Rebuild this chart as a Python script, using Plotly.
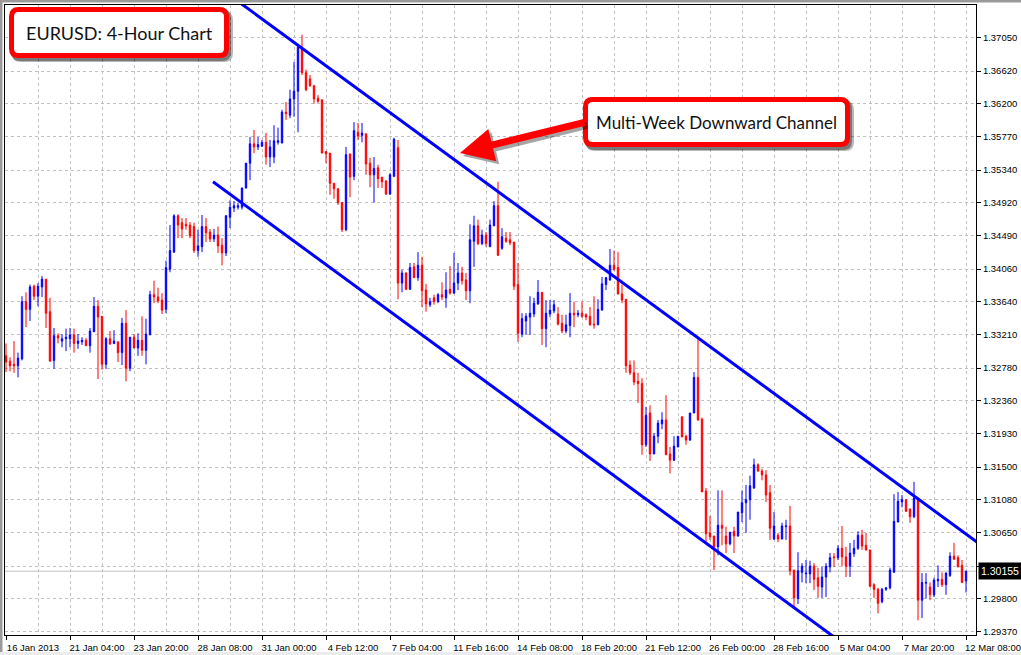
import plotly.graph_objects as go

# ---------------- data (EURUSD 4H) ----------------
bar_index = list(range(241))

open_ = [
    1.3294, 1.3287, 1.3283, 1.3281, 1.3290, 1.3364, 1.3354, 1.3384, 1.3371, 1.3383,
    1.3393, 1.3351, 1.3288, 1.3320, 1.3313, 1.3316, 1.3316, 1.3321, 1.3310, 1.3312,
    1.3314, 1.3307, 1.3325, 1.3358, 1.3345, 1.3283, 1.3316, 1.3310, 1.3312, 1.3298,
    1.3336, 1.3278, 1.3318, 1.3304, 1.3314, 1.3301, 1.3321, 1.3373, 1.3370, 1.3366,
    1.3354, 1.3406, 1.3428, 1.3475, 1.3466, 1.3464, 1.3463, 1.3461, 1.3430, 1.3435,
    1.3461, 1.3454, 1.3445, 1.3450, 1.3437, 1.3427, 1.3473, 1.3485, 1.3486, 1.3486,
    1.3511, 1.3543, 1.3568, 1.3564, 1.3565, 1.3570, 1.3551, 1.3551, 1.3570, 1.3569,
    1.3609, 1.3605, 1.3626, 1.3636, 1.3693, 1.3660, 1.3652, 1.3643, 1.3627, 1.3625,
    1.3558, 1.3556, 1.3517, 1.3510, 1.3492, 1.3457, 1.3555, 1.3526, 1.3583, 1.3579,
    1.3581, 1.3543, 1.3528, 1.3537, 1.3525, 1.3520, 1.3503, 1.3526, 1.3563, 1.3388,
    1.3401, 1.3380, 1.3409, 1.3395, 1.3411, 1.3379, 1.3360, 1.3369, 1.3364, 1.3373,
    1.3369, 1.3380, 1.3375, 1.3388, 1.3401, 1.3392, 1.3378, 1.3442, 1.3462, 1.3439,
    1.3450, 1.3435, 1.3462, 1.3488, 1.3433, 1.3446, 1.3444, 1.3441, 1.3386, 1.3322,
    1.3339, 1.3344, 1.3348, 1.3361, 1.3376, 1.3329, 1.3348, 1.3352, 1.3348, 1.3336,
    1.3326, 1.3333, 1.3349, 1.3347, 1.3349, 1.3347, 1.3345, 1.3335, 1.3334, 1.3353,
    1.3386, 1.3392, 1.3411, 1.3408, 1.3374, 1.3367, 1.3282, 1.3272, 1.3261, 1.3258,
    1.3179, 1.3220, 1.3167, 1.3190, 1.3206, 1.3211, 1.3167, 1.3159, 1.3176, 1.3215,
    1.3190, 1.3185, 1.3220, 1.3266, 1.3212, 1.3119, 1.3065, 1.3061, 1.3047, 1.3075,
    1.3061, 1.3051, 1.3067, 1.3061, 1.3091, 1.3104, 1.3108, 1.3123, 1.3153, 1.3145,
    1.3140, 1.3117, 1.3057, 1.3062, 1.3057, 1.3073, 1.3074, 1.3017, 1.2980, 1.3014,
    1.3012, 1.3012, 1.3022, 1.3007, 1.2995, 1.3008, 1.3021, 1.3034, 1.3033, 1.3045,
    1.3034, 1.3022, 1.3038, 1.3045, 1.3062, 1.3049, 1.3043, 1.2998, 1.2992, 1.2976,
    1.2992, 1.2994, 1.3014, 1.3079, 1.3105, 1.3108, 1.3096, 1.3086, 1.3110, 1.2978,
    1.3000, 1.2995, 1.2985, 1.3003, 1.3005, 1.2998, 1.3010, 1.3035, 1.3033, 1.3023,
    1.3003,
]

high = [
    1.3310, 1.3292, 1.3313, 1.3298, 1.3371, 1.3376, 1.3386, 1.3386, 1.3388, 1.3397,
    1.3393, 1.3369, 1.3330, 1.3323, 1.3322, 1.3329, 1.3330, 1.3329, 1.3322, 1.3318,
    1.3317, 1.3330, 1.3370, 1.3366, 1.3345, 1.3318, 1.3326, 1.3327, 1.3312, 1.3343,
    1.3353, 1.3318, 1.3322, 1.3323, 1.3345, 1.3342, 1.3378, 1.3391, 1.3382, 1.3375,
    1.3417, 1.3463, 1.3477, 1.3477, 1.3472, 1.3472, 1.3467, 1.3466, 1.3457, 1.3476,
    1.3472, 1.3458, 1.3458, 1.3461, 1.3446, 1.3476, 1.3495, 1.3494, 1.3492, 1.3511,
    1.3543, 1.3577, 1.3586, 1.3577, 1.3573, 1.3582, 1.3573, 1.3592, 1.3589, 1.3612,
    1.3622, 1.3638, 1.3674, 1.3693, 1.3709, 1.3664, 1.3657, 1.3644, 1.3631, 1.3625,
    1.3558, 1.3556, 1.3517, 1.3510, 1.3492, 1.3564, 1.3555, 1.3596, 1.3595, 1.3595,
    1.3581, 1.3550, 1.3551, 1.3541, 1.3525, 1.3521, 1.3530, 1.3576, 1.3573, 1.3405,
    1.3402, 1.3414, 1.3414, 1.3428, 1.3422, 1.3387, 1.3369, 1.3373, 1.3375, 1.3389,
    1.3402, 1.3410, 1.3427, 1.3414, 1.3409, 1.3401, 1.3464, 1.3475, 1.3470, 1.3457,
    1.3454, 1.3470, 1.3494, 1.3519, 1.3459, 1.3454, 1.3454, 1.3441, 1.3414, 1.3349,
    1.3349, 1.3371, 1.3369, 1.3392, 1.3376, 1.3366, 1.3366, 1.3366, 1.3357, 1.3347,
    1.3347, 1.3375, 1.3364, 1.3353, 1.3364, 1.3349, 1.3357, 1.3371, 1.3367, 1.3396,
    1.3396, 1.3432, 1.3430, 1.3428, 1.3386, 1.3367, 1.3288, 1.3288, 1.3272, 1.3265,
    1.3228, 1.3230, 1.3194, 1.3211, 1.3221, 1.3243, 1.3176, 1.3190, 1.3190, 1.3216,
    1.3192, 1.3220, 1.3273, 1.3317, 1.3214, 1.3123, 1.3087, 1.3061, 1.3120, 1.3120,
    1.3073, 1.3066, 1.3073, 1.3092, 1.3120, 1.3127, 1.3139, 1.3161, 1.3155, 1.3148,
    1.3146, 1.3127, 1.3092, 1.3065, 1.3078, 1.3082, 1.3100, 1.3017, 1.3040, 1.3026,
    1.3030, 1.3029, 1.3026, 1.3020, 1.3021, 1.3026, 1.3039, 1.3039, 1.3049, 1.3074,
    1.3047, 1.3052, 1.3056, 1.3067, 1.3069, 1.3065, 1.3043, 1.3000, 1.2994, 1.2994,
    1.2995, 1.3020, 1.3115, 1.3118, 1.3114, 1.3108, 1.3096, 1.3131, 1.3111, 1.3013,
    1.3013, 1.3001, 1.3007, 1.3023, 1.3014, 1.3014, 1.3040, 1.3052, 1.3036, 1.3030,
    1.3016,
]

low = [
    1.3273, 1.3274, 1.3272, 1.3266, 1.3288, 1.3331, 1.3339, 1.3366, 1.3358, 1.3370,
    1.3330, 1.3287, 1.3277, 1.3310, 1.3305, 1.3300, 1.3305, 1.3298, 1.3303, 1.3308,
    1.3307, 1.3298, 1.3325, 1.3264, 1.3276, 1.3277, 1.3309, 1.3309, 1.3286, 1.3282,
    1.3261, 1.3274, 1.3304, 1.3294, 1.3294, 1.3283, 1.3321, 1.3362, 1.3362, 1.3348,
    1.3349, 1.3402, 1.3427, 1.3446, 1.3446, 1.3457, 1.3446, 1.3427, 1.3422, 1.3428,
    1.3441, 1.3441, 1.3441, 1.3427, 1.3411, 1.3423, 1.3459, 1.3480, 1.3483, 1.3483,
    1.3510, 1.3521, 1.3556, 1.3560, 1.3564, 1.3541, 1.3538, 1.3543, 1.3567, 1.3569,
    1.3599, 1.3601, 1.3603, 1.3583, 1.3657, 1.3636, 1.3642, 1.3620, 1.3621, 1.3556,
    1.3543, 1.3502, 1.3497, 1.3489, 1.3454, 1.3455, 1.3499, 1.3521, 1.3573, 1.3570,
    1.3528, 1.3512, 1.3492, 1.3511, 1.3511, 1.3502, 1.3502, 1.3525, 1.3367, 1.3376,
    1.3379, 1.3379, 1.3395, 1.3391, 1.3357, 1.3351, 1.3357, 1.3360, 1.3362, 1.3366,
    1.3356, 1.3373, 1.3374, 1.3379, 1.3386, 1.3366, 1.3362, 1.3409, 1.3437, 1.3437,
    1.3435, 1.3435, 1.3462, 1.3423, 1.3431, 1.3440, 1.3437, 1.3379, 1.3312, 1.3318,
    1.3321, 1.3321, 1.3344, 1.3360, 1.3308, 1.3305, 1.3344, 1.3349, 1.3333, 1.3323,
    1.3323, 1.3318, 1.3331, 1.3344, 1.3343, 1.3340, 1.3333, 1.3329, 1.3334, 1.3353,
    1.3379, 1.3391, 1.3404, 1.3373, 1.3362, 1.3272, 1.3269, 1.3256, 1.3233, 1.3166,
    1.3176, 1.3158, 1.3167, 1.3181, 1.3199, 1.3166, 1.3142, 1.3158, 1.3176, 1.3189,
    1.3179, 1.3184, 1.3220, 1.3210, 1.3118, 1.3052, 1.3056, 1.3017, 1.3036, 1.3049,
    1.3039, 1.3049, 1.3039, 1.3060, 1.3079, 1.3065, 1.3082, 1.3122, 1.3144, 1.3133,
    1.3105, 1.3056, 1.3056, 1.3053, 1.3057, 1.3056, 1.3010, 1.2969, 1.2973, 1.3001,
    1.3000, 1.3000, 1.2991, 1.2981, 1.2981, 1.2982, 1.3014, 1.3021, 1.3030, 1.3022,
    1.3008, 1.3008, 1.3034, 1.3043, 1.3043, 1.3042, 1.2995, 1.2981, 1.2961, 1.2974,
    1.2990, 1.2992, 1.3014, 1.3079, 1.3098, 1.3092, 1.3078, 1.3084, 1.2952, 1.2955,
    1.2980, 1.2978, 1.2982, 1.2995, 1.2995, 1.2985, 1.3008, 1.3030, 1.3021, 1.3000,
    1.2988,
]

close = [
    1.3286, 1.3281, 1.3281, 1.3291, 1.3364, 1.3354, 1.3383, 1.3371, 1.3384, 1.3393,
    1.3349, 1.3287, 1.3320, 1.3317, 1.3316, 1.3318, 1.3321, 1.3310, 1.3313, 1.3314,
    1.3307, 1.3326, 1.3358, 1.3344, 1.3283, 1.3316, 1.3309, 1.3313, 1.3298, 1.3336,
    1.3278, 1.3318, 1.3304, 1.3314, 1.3301, 1.3322, 1.3373, 1.3370, 1.3365, 1.3353,
    1.3408, 1.3430, 1.3475, 1.3463, 1.3458, 1.3462, 1.3449, 1.3430, 1.3436, 1.3461,
    1.3453, 1.3445, 1.3450, 1.3436, 1.3427, 1.3475, 1.3486, 1.3488, 1.3488, 1.3511,
    1.3543, 1.3568, 1.3564, 1.3567, 1.3570, 1.3551, 1.3564, 1.3572, 1.3572, 1.3609,
    1.3607, 1.3626, 1.3636, 1.3693, 1.3660, 1.3638, 1.3643, 1.3626, 1.3623, 1.3556,
    1.3555, 1.3517, 1.3510, 1.3492, 1.3457, 1.3554, 1.3525, 1.3585, 1.3578, 1.3582,
    1.3542, 1.3528, 1.3536, 1.3523, 1.3519, 1.3503, 1.3528, 1.3574, 1.3388, 1.3401,
    1.3380, 1.3408, 1.3395, 1.3411, 1.3378, 1.3361, 1.3364, 1.3364, 1.3373, 1.3370,
    1.3379, 1.3375, 1.3388, 1.3401, 1.3391, 1.3378, 1.3444, 1.3462, 1.3439, 1.3450,
    1.3439, 1.3463, 1.3488, 1.3424, 1.3448, 1.3442, 1.3440, 1.3384, 1.3323, 1.3342,
    1.3345, 1.3349, 1.3362, 1.3376, 1.3329, 1.3349, 1.3353, 1.3360, 1.3335, 1.3326,
    1.3334, 1.3349, 1.3347, 1.3349, 1.3345, 1.3344, 1.3334, 1.3334, 1.3354, 1.3387,
    1.3395, 1.3411, 1.3406, 1.3374, 1.3366, 1.3281, 1.3272, 1.3260, 1.3258, 1.3179,
    1.3217, 1.3167, 1.3190, 1.3207, 1.3211, 1.3166, 1.3159, 1.3177, 1.3190, 1.3189,
    1.3185, 1.3220, 1.3266, 1.3211, 1.3118, 1.3064, 1.3060, 1.3047, 1.3075, 1.3071,
    1.3051, 1.3066, 1.3061, 1.3092, 1.3104, 1.3108, 1.3126, 1.3153, 1.3145, 1.3140,
    1.3114, 1.3071, 1.3074, 1.3057, 1.3074, 1.3074, 1.3016, 1.2981, 1.3016, 1.3022,
    1.3013, 1.3022, 1.3005, 1.2996, 1.3008, 1.3022, 1.3033, 1.3033, 1.3045, 1.3034,
    1.3022, 1.3039, 1.3045, 1.3062, 1.3048, 1.3043, 1.2996, 1.2992, 1.2974, 1.2992,
    1.2994, 1.3017, 1.3080, 1.3106, 1.3108, 1.3093, 1.3086, 1.3110, 1.2978, 1.3001,
    1.3001, 1.2985, 1.3004, 1.3005, 1.2998, 1.3013, 1.3035, 1.3031, 1.3021, 1.3001,
    1.30155,
]

x_tick_index = [0, 16, 32, 48, 64, 80, 96, 112, 128, 144, 160, 176, 192, 208, 224, 240]
x_tick_labels = ["16 Jan 2013", "21 Jan 04:00", "23 Jan 20:00", "28 Jan 08:00",
                 "31 Jan 00:00", "4 Feb 12:00", "7 Feb 04:00", "11 Feb 16:00",
                 "14 Feb 08:00", "18 Feb 20:00", "21 Feb 12:00", "26 Feb 00:00",
                 "28 Feb 16:00", "5 Mar 04:00", "7 Mar 20:00", "12 Mar 08:00"]

y_tick_values = [1.37050, 1.36620, 1.36200, 1.35770, 1.35340, 1.34920, 1.34490,
                 1.34060, 1.33640, 1.33210, 1.32780, 1.32360, 1.31930, 1.31500,
                 1.31080, 1.30650, 1.30220, 1.29800, 1.29370]

last_price = 1.30155

# channel trend lines (two anchor points each: bar index, price)
upper_channel_x = [50, 246]
upper_channel_y = [1.37825, 1.30409]
lower_channel_x = [51.75, 210]
lower_channel_y = [1.35190, 1.29191]

title_text = "EURUSD: 4-Hour Chart"
callout_text = "Multi-Week Downward Channel"

# ---------------- figure ----------------
W, H = 1021, 655
ML, MR, MT, MB = 5, 45, 5, 20
PW, PH = W - ML - MR, H - MT - MB

fig = go.Figure()
fig.add_trace(go.Candlestick(
    x=bar_index, open=open_, high=high, low=low, close=close,
    increasing=dict(line=dict(color="#0000ff", width=1), fillcolor="#0000ff"),
    decreasing=dict(line=dict(color="#ff0000", width=1), fillcolor="#ff0000"),
    whiskerwidth=0, hoverinfo="skip", showlegend=False,
))
for xs, ys in ((upper_channel_x, upper_channel_y), (lower_channel_x, lower_channel_y)):
    fig.add_trace(go.Scatter(x=xs, y=ys, mode="lines",
                             line=dict(color="#0000ff", width=3),
                             hoverinfo="skip", showlegend=False))


def rrect(X0, Y0, X1, Y1, r):
    """rounded rectangle path in pixels relative to the plot's top-left corner
    (page coords in, y-up relative coords out)."""
    x0, x1 = X0 - ML, X1 - ML
    yt, yb = MT - Y0, MT - Y1
    return (f"M {x0 + r},{yt} L {x1 - r},{yt} Q {x1},{yt} {x1},{yt - r} "
            f"L {x1},{yb + r} Q {x1},{yb} {x1 - r},{yb} L {x0 + r},{yb} "
            f"Q {x0},{yb} {x0},{yb + r} L {x0},{yt - r} Q {x0},{yt} {x0 + r},{yt} Z")


def pix_shape(path, fill, line_color=None, line_width=0):
    return dict(type="path", xref="paper", yref="paper", xsizemode="pixel",
                ysizemode="pixel", xanchor=0, yanchor=1, path=path,
                fillcolor=fill, layer="above",
                line=dict(color=line_color or fill, width=line_width))


def pix_rect(X0, Y0, X1, Y1, fill):
    return dict(type="rect", xref="paper", yref="paper", xsizemode="pixel",
                ysizemode="pixel", xanchor=0, yanchor=1, x0=X0 - ML, x1=X1 - ML,
                y0=MT - Y0, y1=MT - Y1, fillcolor=fill, line=dict(width=0),
                layer="above")


shapes = []
# last price line
shapes.append(dict(type="line", xref="paper", yref="y", x0=0, x1=1,
                   y0=last_price, y1=last_price, layer="between",
                   line=dict(color="#c0c0c0", width=1)))
# window frame strips (top / left) and bottom strip
shapes.append(pix_rect(0, 0, W, 2.5, "#9a9a9a"))
shapes.append(pix_rect(0, 0, 2.5, H, "#9a9a9a"))
shapes.append(pix_rect(0, H - 3, W, H, "#ececec"))

# callout boxes: shadow + red rounded border with white fill
boxes = [(9, 7, 229, 58), (583, 97, 850, 147)]
for (X0, Y0, X1, Y1) in boxes:
    shapes.append(pix_shape(rrect(X0 + 3, Y0 + 4, X1 + 4, Y1 + 4, 9), "rgba(0,0,0,0.28)"))
    shapes.append(pix_shape(rrect(X0 + 2, Y0 + 2, X1 + 2, Y1 + 3, 9), "rgba(0,0,0,0.35)"))
    shapes.append(pix_shape(rrect(X0 + 2.5, Y0 + 2.5, X1 - 2.5, Y1 - 2.5, 7),
                            "#ffffff", "#ff0000", 5))


def px2paper(X, Y):
    return (X - ML) / PW, 1 - (Y - MT) / PH


annotations = []
# arrow (shadow then red)
hx, hy = px2paper(460, 153)
sx, sy = px2paper(463, 156)
for (ax_, ay_, col) in ((sx, sy, "rgba(0,0,0,0.35)"), (hx, hy, "#ff0000")):
    annotations.append(dict(xref="paper", yref="paper", x=ax_, y=ay_, text="",
                            showarrow=True, ax=126, ay=-31, axref="pixel", ayref="pixel",
                            arrowcolor=col, arrowwidth=7, arrowhead=2,
                            arrowsize=0.95, standoff=0, startstandoff=0))
tx, ty = px2paper(119, 33)
annotations.append(dict(xref="paper", yref="paper", x=tx, y=ty, text=title_text,
                        xanchor="center", yanchor="middle", showarrow=False,
                        font=dict(family="Lato", size=18, color="#111111")))
cx, cy = px2paper(716, 122)
annotations.append(dict(xref="paper", yref="paper", x=cx, y=cy, text=callout_text,
                        xanchor="center", yanchor="middle", showarrow=False,
                        font=dict(family="Lato", size=17, color="#111111")))
# last price label
annotations.append(dict(xref="paper", yref="y", x=1, y=last_price, xanchor="left",
                        yanchor="middle", xshift=2, text=f"{last_price:.5f}",
                        showarrow=False, bgcolor="#000000", borderpad=2,
                        font=dict(family="Liberation Sans", size=10.5, color="#ffffff")))

grid_style = dict(gridcolor="#c0c0c0", griddash="3px,3px", gridwidth=1)
axis_font = dict(family="Liberation Sans", size=9.5, color="#000000")

fig.update_layout(
    width=W, height=H, margin=dict(l=ML, r=MR, t=MT, b=MB),
    paper_bgcolor="#ffffff", plot_bgcolor="#ffffff",
    boxgap=0.5, showlegend=False, hovermode=False,
    shapes=shapes, annotations=annotations,
    xaxis=dict(
        range=[-0.25, 242.5], tickmode="array", tickvals=x_tick_index,
        ticktext=x_tick_labels, ticks="outside", ticklen=4, tickcolor="#000000",
        ticklabelshift=27, tickfont=axis_font, showline=True, mirror=True,
        linecolor="#000000", linewidth=1, zeroline=False, showgrid=True,
        rangeslider=dict(visible=False), fixedrange=True, automargin=False,
        minor=dict(tickmode="linear", tick0=0, dtick=8, showgrid=True, ticks="",
                   **grid_style),
        **grid_style,
    ),
    yaxis=dict(
        side="right", range=[1.29330, 1.37475], tickmode="array",
        tickvals=y_tick_values, ticktext=[f"{v:.5f}" for v in y_tick_values],
        ticks="outside", ticklen=4, tickcolor="#000000", tickfont=axis_font,
        showline=True, mirror=True, linecolor="#000000", linewidth=1,
        zeroline=False, showgrid=True, fixedrange=True, automargin=False,
        **grid_style,
    ),
)

fig.write_html(
    "out.html",
    config={"staticPlot": True},
    post_script="document.body.style.margin='0';document.body.style.overflow='hidden';",
)
